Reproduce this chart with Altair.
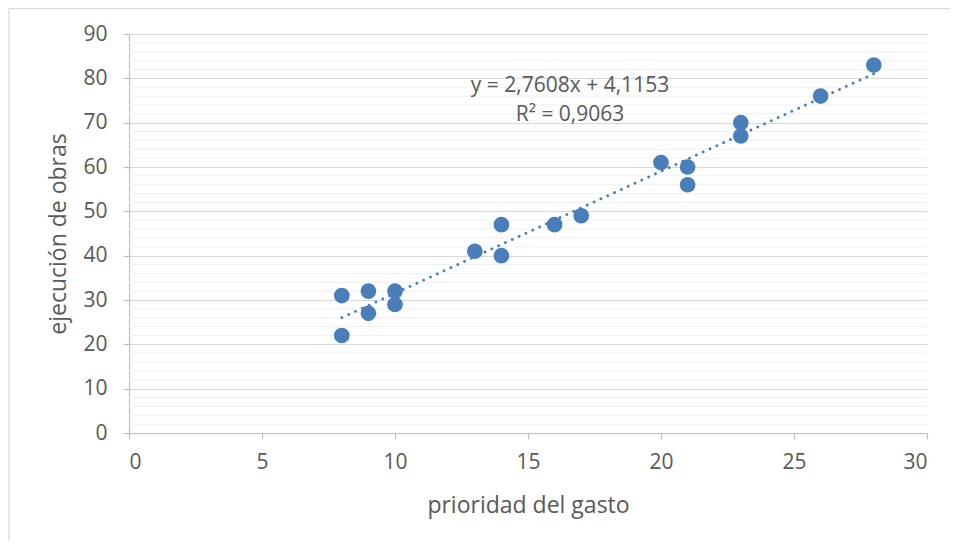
import altair as alt
import pandas as pd

# data
prioridad = [8, 8, 9, 9, 10, 10, 13, 14, 14, 16, 17, 20, 21, 21, 23, 23, 26, 28]
ejecucion = [31, 22, 32, 27, 32, 29, 41, 47, 40, 47, 49, 61, 60, 56, 70, 67, 76, 83]
x_ticks = [0, 5, 10, 15, 20, 25, 30]
y_ticks = [0, 10, 20, 30, 40, 50, 60, 70, 80, 90]
minor_grid = [2, 4, 6, 8, 12, 14, 16, 18, 22, 24, 26, 28, 32, 34, 36, 38, 42, 44, 46, 48,
              52, 54, 56, 58, 62, 64, 66, 68, 72, 74, 76, 78, 82, 84, 86, 88]
eq_lines = ["y = 2,7608x + 4,1153", "R\u00b2 = 0,9063"]

df = pd.DataFrame({"x": prioridad, "y": ejecucion})

FONT = "Open Sans"
TXT = "#595959"
BLUE = "#4a7ebb"

xs = alt.Scale(domain=[0, 30], nice=False, zero=False)
ys = alt.Scale(domain=[0, 90], nice=False, zero=False)

X = alt.X("x:Q", scale=xs, title="prioridad del gasto",
          axis=alt.Axis(values=x_ticks, grid=False, labelPadding=12, titlePadding=22))
Y = alt.Y("y:Q", scale=ys, title="ejecución de obras",
          axis=alt.Axis(values=y_ticks, grid=True, labelPadding=16, titlePadding=12))

border = alt.Chart(pd.DataFrame({"a": [0]})).mark_rect(
    fill="transparent", stroke="#d9d9d9", strokeWidth=1.2, clip=False
).encode(x=alt.value(-120), x2=alt.value(900), y=alt.value(-25.4), y2=alt.value(600))

minor = alt.Chart(pd.DataFrame({"g": minor_grid})).mark_rule(
    color="#f0f0f0", strokeWidth=1
).encode(y=alt.Y("g:Q", scale=ys))

points = alt.Chart(df).mark_circle(size=245, color=BLUE, opacity=1).encode(x=X, y=Y)

trend = alt.Chart(df).transform_regression("x", "y", method="linear").mark_line(
    color=BLUE, strokeWidth=2.8, strokeDash=[0.1, 7.4], strokeCap="round"
).encode(x=alt.X("x:Q", scale=xs), y=alt.Y("y:Q", scale=ys))

eq1 = alt.Chart(pd.DataFrame({"t": [eq_lines[0]]})).mark_text(
    font=FONT, fontSize=21, color=TXT, align="center", baseline="middle"
).encode(text="t:N", x=alt.value(441), y=alt.value(52))
eq2 = alt.Chart(pd.DataFrame({"t": [eq_lines[1]]})).mark_text(
    font=FONT, fontSize=21, color=TXT, align="center", baseline="middle"
).encode(text="t:N", x=alt.value(441), y=alt.value(81))

chart = alt.layer(border, minor, points, trend, eq1, eq2).properties(
    width=798, height=399,
    autosize=alt.AutoSizeParams(type="none"),
    padding={"left": 121, "top": 26, "right": 23, "bottom": 108},
    background="white",
).configure_view(stroke=None).configure_axis(
    labelFont=FONT, labelFontSize=21, labelColor=TXT,
    titleFont=FONT, titleFontSize=23, titleColor=TXT, titleFontWeight="normal",
    domainColor="#bfbfbf", tickColor="#bfbfbf", tickSize=6, gridColor="#d9d9d9",
    domainWidth=1.2, tickWidth=1.2, gridWidth=1.2,
)

chart.save("out.html", embed_options={"renderer": "svg", "actions": False})
